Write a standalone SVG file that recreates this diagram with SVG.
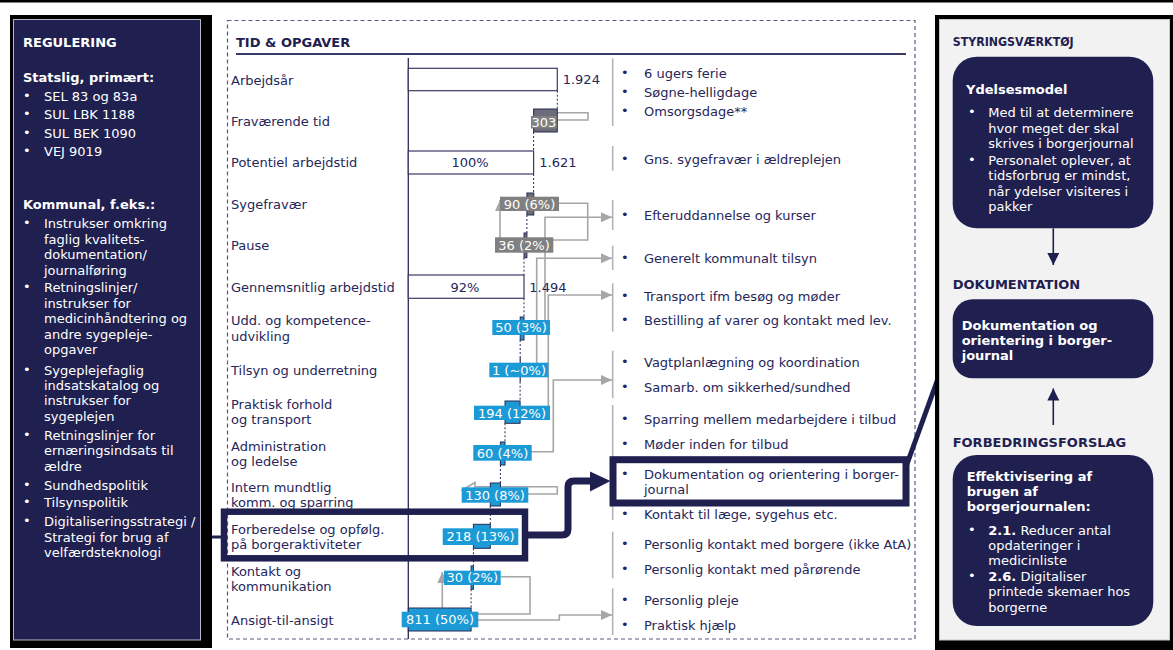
<svg xmlns="http://www.w3.org/2000/svg" width="1173" height="650" viewBox="0 0 1173 650">
<defs>
<style>
text{font-family:"DejaVu Sans","Liberation Sans",sans-serif;}
.t{font-size:13px;fill:#26265a;}
.w{font-size:13px;fill:#ffffff;}
.wb{font-size:13px;fill:#ffffff;font-weight:bold;}
.h{font-size:13px;font-weight:bold;fill:#ffffff;}
.hn{font-size:13px;font-weight:bold;fill:#1f2050;}
.rw{font-size:13px;fill:#ffffff;}
.rwb{font-size:13px;fill:#ffffff;font-weight:bold;}
.lbl{font-size:13px;fill:#ffffff;text-anchor:middle;}
.wbar{fill:#ffffff;stroke:#3a3a68;stroke-width:1.2;}
.gbar{fill:#6b6b7a;stroke:#2a2a58;stroke-width:1;}
.bbar{fill:#1b9ad6;stroke:#2a2a58;stroke-width:1;}
.glab{fill:#808080;}
.blab{fill:#1b9ad6;}
.dash{stroke:#2a2a58;stroke-width:1;stroke-dasharray:2,2;fill:none;}
.conn{stroke:#a6a6a6;stroke-width:1.6;fill:none;}
.hollow{stroke:#a6a6a6;stroke-width:1.6;fill:#ffffff;}
.sep{stroke:#b4b4b4;stroke-width:1.6;}
.hl{stroke:#1f2050;stroke-width:6.5;fill:none;}
.nbox{fill:#1f2050;}
</style>
<marker id="ga" markerUnits="userSpaceOnUse" markerWidth="12" markerHeight="12" refX="11" refY="5" orient="auto">
<path d="M0,0 L11,5 L0,10 Z" fill="#a6a6a6"/>
</marker>
<marker id="na" markerUnits="userSpaceOnUse" markerWidth="14" markerHeight="14" refX="12" refY="6" orient="auto">
<path d="M0,0 L12,6 L0,12 Z" fill="#1f2050"/>
</marker>
</defs>
<rect x="0" y="0" width="1173" height="650" fill="#ffffff"/>
<rect x="0" y="0" width="1173" height="2.5" fill="#000000"/>

<!-- LEFT PANEL -->
<g id="regulering">
<rect x="10" y="15" width="202" height="633" fill="#000000"/>
<rect x="13.5" y="19.5" width="187" height="620.5" fill="#1f2050" stroke="#b8b8c8" stroke-width="1"/>
<text class="h" x="23" y="47">REGULERING</text>
<text class="wb" x="23" y="82">Statslig, primært:</text>
<text class="w" x="23" y="100">•</text><text class="w" x="44" y="101">SEL 83 og 83a</text>
<text class="w" x="23" y="118">•</text><text class="w" x="44" y="119">SUL LBK 1188</text>
<text class="w" x="23" y="136.5">•</text><text class="w" x="44" y="137.5">SUL BEK 1090</text>
<text class="w" x="23" y="155">•</text><text class="w" x="44" y="156">VEJ 9019</text>
<text class="wb" x="23" y="209">Kommunal, f.eks.:</text>
<text class="w" x="23" y="227">•</text><text class="w" x="44" y="228">Instrukser omkring</text>
<text class="w" x="44" y="243.5">faglig kvalitets-</text>
<text class="w" x="44" y="259">dokumentation/</text>
<text class="w" x="44" y="274.5">journalføring</text>
<text class="w" x="23" y="291">•</text><text class="w" x="44" y="292">Retningslinjer/</text>
<text class="w" x="44" y="307.5">instrukser for</text>
<text class="w" x="44" y="323">medicinhåndtering og</text>
<text class="w" x="44" y="338.5">andre sygepleje-</text>
<text class="w" x="44" y="354">opgaver</text>
<text class="w" x="23" y="373.5">•</text><text class="w" x="44" y="374.5">Sygeplejefaglig</text>
<text class="w" x="44" y="390">indsatskatalog og</text>
<text class="w" x="44" y="405">instrukser for</text>
<text class="w" x="44" y="420.5">sygeplejen</text>
<text class="w" x="23" y="438.5">•</text><text class="w" x="44" y="439.5">Retningslinjer for</text>
<text class="w" x="44" y="455">ernæringsindsats til</text>
<text class="w" x="44" y="470.5">ældre</text>
<text class="w" x="23" y="488.5">•</text><text class="w" x="44" y="489.5">Sundhedspolitik</text>
<text class="w" x="23" y="506">•</text><text class="w" x="44" y="507">Tilsynspolitik</text>
<text class="w" x="23" y="525">•</text><text class="w" x="44" y="526">Digitaliseringsstrategi /</text>
<text class="w" x="44" y="541.5">Strategi for brug af</text>
<text class="w" x="44" y="557">velfærdsteknologi</text>
</g>

<!-- MIDDLE PANEL -->
<g id="tid-opgaver">
<rect x="227.5" y="20.5" width="687.5" height="618.5" fill="none" stroke="#5a5a7e" stroke-width="1.2" stroke-dasharray="4,3"/>
<text class="hn" x="236" y="47">TID &amp; OPGAVER</text>
<line x1="236" y1="54" x2="906" y2="54" stroke="#3a3a68" stroke-width="1.8"/>
<line x1="408.3" y1="58" x2="408.3" y2="639" stroke="#2a2a58" stroke-width="1.3"/>

<g id="row-labels">
<text class="t" x="231" y="84.5">Arbejdsår</text>
<text class="t" x="231" y="126">Fraværende tid</text>
<text class="t" x="231" y="167">Potentiel arbejdstid</text>
<text class="t" x="231" y="208.5">Sygefravær</text>
<text class="t" x="231" y="250">Pause</text>
<text class="t" x="231" y="292">Gennemsnitlig arbejdstid</text>
<text class="t" x="231" y="324.5">Udd. og kompetence-</text>
<text class="t" x="231" y="341">udvikling</text>
<text class="t" x="231" y="375">Tilsyn og underretning</text>
<text class="t" x="231" y="408.5">Praktisk forhold</text>
<text class="t" x="231" y="424">og transport</text>
<text class="t" x="231" y="450.5">Administration</text>
<text class="t" x="231" y="466">og ledelse</text>
<text class="t" x="231" y="492">Intern mundtlig</text>
<text class="t" x="231" y="507">komm. og sparring</text>
<text class="t" x="231" y="534">Forberedelse og opfølg.</text>
<text class="t" x="231" y="549">på borgeraktiviteter</text>
<text class="t" x="231" y="575.5">Kontakt og</text>
<text class="t" x="231" y="590.5">kommunikation</text>
<text class="t" x="231" y="624.5">Ansigt-til-ansigt</text>
</g>

<g id="dashes">
<line class="dash" x1="557.3" y1="90.7" x2="557.3" y2="109"/>
<line class="dash" x1="533.6" y1="132" x2="533.6" y2="151"/>
<line class="dash" x1="533.6" y1="174" x2="533.6" y2="193"/>
<line class="dash" x1="526.9" y1="215" x2="526.9" y2="233"/>
<line class="dash" x1="524" y1="257.7" x2="524" y2="275"/>
<line class="dash" x1="524" y1="298.3" x2="524" y2="317"/>
<line class="dash" x1="520.2" y1="340" x2="520.2" y2="357"/>
<line class="dash" x1="520.1" y1="381.7" x2="520.1" y2="401"/>
<line class="dash" x1="505" y1="423.3" x2="505" y2="442"/>
<line class="dash" x1="500.4" y1="465" x2="500.4" y2="483"/>
<line class="dash" x1="490.3" y1="506" x2="490.3" y2="524.3"/>
<line class="dash" x1="473.4" y1="548.3" x2="473.4" y2="566"/>
<line class="dash" x1="471.1" y1="589.3" x2="471.1" y2="608"/>
</g>

<g id="connectors">
<path class="hollow" d="M588,112.7 H546 V109.5 L534,116.3 L546,123.2 V120 H588 Z"/>
<path class="conn" d="M559,203.3 H587.7 V240 H500 V200" marker-end="url(#ga)"/>
<path class="conn" d="M545,320 V217.3 H612" marker-end="url(#ga)"/>
<path class="conn" d="M536.7,363 V258.3 H612" marker-end="url(#ga)"/>
<path class="conn" d="M548.3,406 V295 H612" marker-end="url(#ga)"/>
<path class="conn" d="M522,451.7 H553.3 V380 H612" marker-end="url(#ga)"/>
<path class="hollow" d="M557.3,486.7 H475 V482.5 L462,490.3 L475,498.2 V494 H557.3 Z"/>
<path class="conn" d="M500.7,576.7 H530 V614 H442.3 V572" marker-end="url(#ga)"/>
<path class="conn" d="M478,620 H559.3 V615 H612" marker-end="url(#ga)"/>
</g>

<g id="bars">
<rect class="wbar" x="408.3" y="68.3" width="149" height="22.4"/>
<rect class="gbar" x="533.6" y="109" width="23.7" height="23"/>
<rect class="wbar" x="408.3" y="151" width="125.3" height="23"/>
<rect class="gbar" x="526.9" y="193" width="6.9" height="22"/>
<rect class="gbar" x="524" y="233" width="2.9" height="24.7"/>
<rect class="wbar" x="408.3" y="275" width="115.7" height="23.3"/>
<rect class="bbar" x="520.2" y="317" width="3.8" height="23"/>
<line x1="520.2" y1="357" x2="520.2" y2="381.7" stroke="#2a2a58" stroke-width="1.2"/>
<rect class="bbar" x="505" y="401" width="15.1" height="22.3"/>
<rect class="bbar" x="500.4" y="442" width="4.6" height="23"/>
<rect class="bbar" x="490.3" y="483" width="10.1" height="23"/>
<rect class="bbar" x="473.4" y="524.3" width="16.9" height="24"/>
<rect class="bbar" x="471.1" y="566" width="2.3" height="23.3"/>
<rect class="bbar" x="408.3" y="608" width="62.8" height="23"/>
</g>

<g id="values">
<text class="t" x="562.7" y="84">1.924</text>
<text class="t" x="470" y="167" text-anchor="middle">100%</text>
<text class="t" x="539.3" y="167">1.621</text>
<text class="t" x="465" y="292" text-anchor="middle">92%</text>
<text class="t" x="529.3" y="292">1.494</text>
<rect class="glab" x="531" y="116" width="25.7" height="12.5"/>
<text class="lbl" x="544" y="126.5">303</text>
<rect class="glab" x="500" y="196.7" width="59" height="14.3"/>
<text class="lbl" x="529.5" y="208.5">90 (6%)</text>
<rect class="glab" x="495" y="237.3" width="58.3" height="15.4"/>
<text class="lbl" x="524" y="249.5">36 (2%)</text>
<rect class="blab" x="492.3" y="320" width="57.7" height="15"/>
<text class="lbl" x="521" y="332">50 (3%)</text>
<rect class="blab" x="489.3" y="362.7" width="59" height="14.6"/>
<text class="lbl" x="519" y="374.5">1 (~0%)</text>
<rect class="blab" x="474" y="405.7" width="76" height="14.3"/>
<text class="lbl" x="512" y="417.5">194 (12%)</text>
<rect class="blab" x="473.3" y="445" width="58.4" height="15.7"/>
<text class="lbl" x="502.5" y="457.5">60 (4%)</text>
<rect class="blab" x="461.7" y="487.3" width="66.6" height="15.4"/>
<text class="lbl" x="495" y="499.5">130 (8%)</text>
<rect class="blab" x="442.7" y="528.3" width="75.6" height="16.7"/>
<text class="lbl" x="480.5" y="541">218 (13%)</text>
<rect class="blab" x="444" y="570.7" width="56.7" height="14.3"/>
<text class="lbl" x="472.3" y="582">30 (2%)</text>
<rect class="blab" x="401.7" y="611.7" width="76.6" height="15.6"/>
<text class="lbl" x="440" y="624">811 (50%)</text>
</g>

<g id="separators">
<line class="sep" x1="612.7" y1="58.3" x2="612.7" y2="126"/>
<line class="sep" x1="612.7" y1="146" x2="612.7" y2="170.7"/>
<line class="sep" x1="612.7" y1="200" x2="612.7" y2="230"/>
<line class="sep" x1="612.7" y1="245.7" x2="612.7" y2="270"/>
<line class="sep" x1="612.7" y1="283.3" x2="612.7" y2="331.7"/>
<line class="sep" x1="612.7" y1="350.7" x2="612.7" y2="398.3"/>
<line class="sep" x1="612.7" y1="405" x2="612.7" y2="520"/>
<line class="sep" x1="612.7" y1="531.7" x2="612.7" y2="578.3"/>
<line class="sep" x1="612.7" y1="588.3" x2="612.7" y2="635"/>
</g>

<g id="tasks">
<text class="t" x="621" y="77">•</text><text class="t" x="644" y="78">6 ugers ferie</text>
<text class="t" x="621" y="96">•</text><text class="t" x="644" y="97">Søgne-helligdage</text>
<text class="t" x="621" y="115">•</text><text class="t" x="644" y="116">Omsorgsdage**</text>
<text class="t" x="621" y="162.5">•</text><text class="t" x="644" y="163.5">Gns. sygefravær i ældreplejen</text>
<text class="t" x="621" y="218.5">•</text><text class="t" x="644" y="219.5">Efteruddannelse og kurser</text>
<text class="t" x="621" y="262">•</text><text class="t" x="644" y="263">Generelt kommunalt tilsyn</text>
<text class="t" x="621" y="299.5">•</text><text class="t" x="644" y="300.5">Transport ifm besøg og møder</text>
<text class="t" x="621" y="323.5">•</text><text class="t" x="644" y="324.5">Bestilling af varer og kontakt med lev.</text>
<text class="t" x="621" y="366">•</text><text class="t" x="644" y="367">Vagtplanlægning og koordination</text>
<text class="t" x="621" y="391">•</text><text class="t" x="644" y="392">Samarb. om sikkerhed/sundhed</text>
<text class="t" x="621" y="423">•</text><text class="t" x="644" y="424">Sparring mellem medarbejdere i tilbud</text>
<text class="t" x="621" y="448">•</text><text class="t" x="644" y="449">Møder inden for tilbud</text>
<text class="t" x="621" y="477.5">•</text><text class="t" x="644" y="478.5">Dokumentation og orientering i borger-</text>
<text class="t" x="644" y="494">journal</text>
<text class="t" x="621" y="518">•</text><text class="t" x="644" y="519">Kontakt til læge, sygehus etc.</text>
<text class="t" x="621" y="547.5">•</text><text class="t" x="644" y="548.5">Personlig kontakt med borgere (ikke AtA)</text>
<text class="t" x="621" y="572.5">•</text><text class="t" x="644" y="573.5">Personlig kontakt med pårørende</text>
<text class="t" x="621" y="603.5">•</text><text class="t" x="644" y="604.5">Personlig pleje</text>
<text class="t" x="621" y="628.5">•</text><text class="t" x="644" y="629.5">Praktisk hjælp</text>
</g>
</g>

<!-- HIGHLIGHTS -->
<g id="highlight">
<line x1="212" y1="537" x2="222" y2="537" stroke="#1f2050" stroke-width="3"/>
<rect class="hl" x="224" y="511.7" width="301" height="46.6"/>
<path d="M528,535 H562 Q568,535 568,529 V487 Q568,481 574,481 H592" stroke="#1f2050" stroke-width="7" fill="none"/>
<polygon points="590,471.5 610.5,481 590,491.5" fill="#1f2050"/>
<rect x="613" y="459.7" width="293" height="43.3" stroke="#1f2050" stroke-width="7" fill="none"/>
<line x1="907" y1="464" x2="952" y2="340" stroke="#1f2050" stroke-width="5"/>
</g>

<!-- RIGHT PANEL -->
<g id="styring">
<rect x="935" y="15" width="238" height="635" fill="#000000"/>
<rect x="939.5" y="19.5" width="230" height="620.5" fill="#f2f2f2" stroke="#c8c8c8" stroke-width="1"/>
<text class="hn" x="952.7" y="46" textLength="121" lengthAdjust="spacingAndGlyphs">STYRINGSVÆRKTØJ</text>
<g id="ydelsesmodel">
<rect class="nbox" x="952.7" y="56.7" width="200.6" height="171.6" rx="24"/>
<text class="rwb" x="966" y="94">Ydelsesmodel</text>
<text class="rw" x="968" y="116">•</text><text class="rw" x="988.3" y="117">Med til at determinere</text>
<text class="rw" x="988.3" y="133">hvor meget der skal</text>
<text class="rw" x="988.3" y="148">skrives i borgerjournal</text>
<text class="rw" x="968" y="163.5">•</text><text class="rw" x="988.3" y="164.5">Personalet oplever, at</text>
<text class="rw" x="988.3" y="180">tidsforbrug er mindst,</text>
<text class="rw" x="988.3" y="196">når ydelser visiteres i</text>
<text class="rw" x="988.3" y="211">pakker</text>
</g>
<line x1="1053.3" y1="228.3" x2="1053.3" y2="265" stroke="#1f2050" stroke-width="1.6" marker-end="url(#na)"/>
<text class="hn" x="952.7" y="289">DOKUMENTATION</text>
<g id="dokumentation">
<rect class="nbox" x="952.7" y="299.3" width="200.6" height="79" rx="20"/>
<text class="rwb" x="961.7" y="329.5">Dokumentation og</text>
<text class="rwb" x="961.7" y="345">orientering i borger-</text>
<text class="rwb" x="961.7" y="360">journal</text>
</g>
<line x1="1053.3" y1="425" x2="1053.3" y2="388.5" stroke="#1f2050" stroke-width="1.6" marker-end="url(#na)"/>
<text class="hn" x="952.7" y="447">FORBEDRINGSFORSLAG</text>
<g id="forbedring">
<rect class="nbox" x="952.7" y="455" width="200.6" height="171" rx="24"/>
<text class="rwb" x="966.7" y="480.5">Effektivisering af</text>
<text class="rwb" x="966.7" y="495.5">brugen af</text>
<text class="rwb" x="966.7" y="510.5">borgerjournalen:</text>
<text class="rw" x="968" y="533.5">•</text><text class="rw" x="988.3" y="534.5"><tspan font-weight="bold">2.1.</tspan> Reducer antal</text>
<text class="rw" x="988.3" y="550">opdateringer i</text>
<text class="rw" x="988.3" y="564.5">medicinliste</text>
<text class="rw" x="968" y="579.5">•</text><text class="rw" x="988.3" y="580.5"><tspan font-weight="bold">2.6.</tspan> Digitaliser</text>
<text class="rw" x="988.3" y="596">printede skemaer hos</text>
<text class="rw" x="988.3" y="612">borgerne</text>
</g>
</g>
</svg>
